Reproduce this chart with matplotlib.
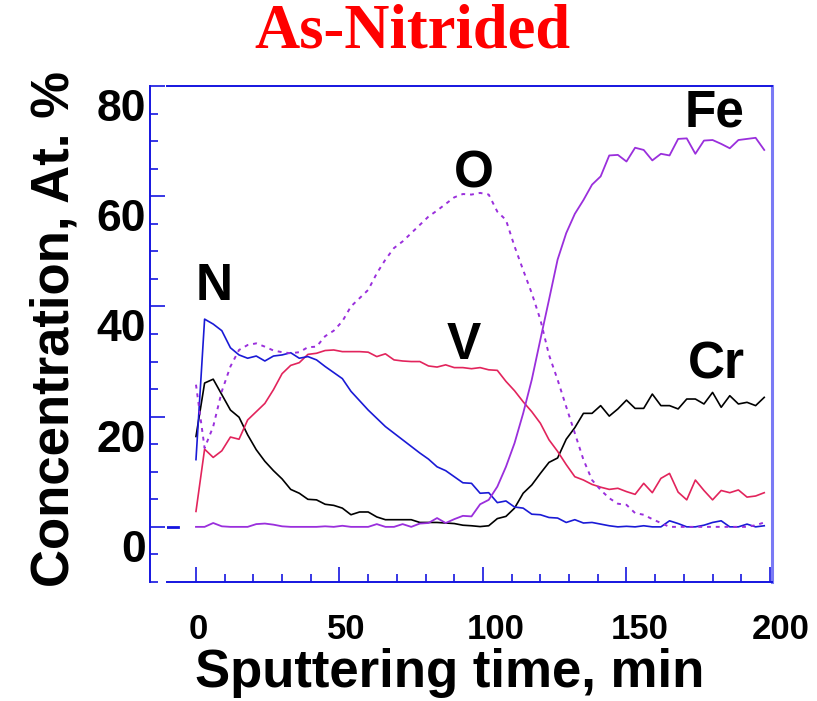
import numpy as np
import matplotlib
matplotlib.use("Agg")
import matplotlib.pyplot as plt
from matplotlib.ticker import MultipleLocator, FixedLocator
from matplotlib.transforms import ScaledTranslation

# sputtering time grid (min), one AES cycle every 3 min
time = np.arange(0, 199, 3)

# concentrations, at. %
n_conc = [12.2, 37.7, 36.8, 35.6, 32.5, 31.2, 30.6, 31.0, 30.1, 31.0,
          31.2, 31.6, 30.6, 30.9, 30.3, 29.1, 28.0, 26.9, 24.6, 22.9,
          21.2, 19.7, 18.2, 17.0, 15.8, 14.6, 13.4, 12.3, 10.9, 10.2,
          9.1, 8.0, 7.9, 6.1, 6.2, 4.4, 4.7, 3.6, 3.4, 2.3,
          2.2, 1.7, 1.6, 0.8, 1.3, 0.7, 0.8, 0.5, 0.2, 0.0,
          0.1, 0.0, 0.2, 0.0, 0.0, 1.1, 0.6, 0.0, 0.0, 0.3,
          0.8, 1.1, 0.0, 0.0, 0.5, 0.0, 0.2]
cr_conc = [16.4, 26.1, 26.8, 24.0, 21.2, 19.9, 16.7, 14.0, 11.9, 10.2,
           8.7, 6.8, 6.1, 5.0, 4.9, 4.1, 3.9, 3.4, 2.2, 2.7,
           2.7, 1.8, 1.3, 1.3, 1.3, 1.3, 0.8, 0.8, 0.8, 0.7,
           0.6, 0.3, 0.2, 0.05, 0.2, 1.5, 1.9, 3.4, 6.1, 7.6,
           9.7, 11.7, 12.5, 15.9, 18.0, 20.6, 20.6, 22.0, 20.1, 21.4,
           23.0, 21.5, 21.5, 24.1, 22.0, 22.0, 21.4, 23.2, 23.2, 22.3,
           24.4, 21.7, 23.8, 22.3, 22.6, 22.0, 23.5]
v_conc = [2.8, 14.1, 12.6, 13.8, 16.3, 15.9, 19.4, 20.9, 22.4, 24.9,
          27.8, 29.3, 29.8, 31.3, 31.5, 32.0, 32.1, 31.8, 31.8, 31.8,
          31.7, 30.9, 31.4, 30.3, 30.1, 30.0, 30.0, 29.2, 29.0, 29.4,
          28.9, 28.9, 28.7, 28.9, 28.5, 28.4, 26.4, 24.7, 22.7, 20.9,
          18.8, 15.8, 13.7, 11.3, 9.1, 8.5, 7.7, 7.2, 6.8, 7.0,
          6.4, 5.9, 7.9, 6.2, 8.8, 9.7, 6.3, 4.9, 8.5, 6.6,
          4.9, 6.6, 6.2, 6.7, 5.4, 5.6, 6.2]
fe_conc = [0.0, 0.0, 0.7, 0.1, 0.0, 0.0, 0.0, 0.5, 0.6, 0.4,
           0.1, 0.0, 0.0, 0.0, 0.0, 0.1, 0.0, 0.2, 0.0, 0.0,
           0.0, 0.5, 0.0, 0.0, 0.5, 0.0, 0.6, 0.7, 1.6, 0.7,
           1.4, 2.0, 1.9, 4.1, 4.9, 7.3, 10.9, 15.2, 20.6, 26.7,
           34.0, 41.2, 48.5, 53.3, 56.8, 59.3, 62.1, 63.6, 67.4, 67.5,
           66.3, 68.8, 68.4, 66.5, 67.7, 67.4, 70.4, 70.5, 67.7, 70.1,
           70.2, 69.5, 68.7, 70.2, 70.4, 70.6, 68.4]
o_conc = [25.8, 14.3, 18.2, 24.6, 29.1, 32.1, 33.0, 33.3, 32.7, 32.0,
          31.7, 31.5, 31.7, 32.6, 32.7, 34.6, 35.6, 37.3, 40.0, 41.5,
          43.0, 46.0, 48.5, 50.6, 51.8, 53.3, 54.8, 56.3, 57.4, 58.6,
          59.8, 60.4, 60.3, 60.6, 60.3, 57.2, 55.7, 50.9, 46.6, 42.4,
          37.6, 31.2, 26.7, 21.8, 17.0, 12.2, 8.5, 6.7, 5.2, 4.2,
          4.0, 2.5, 2.2, 1.4, 0.7, 0.0, 0.0, 0.0, 0.0, 0.0,
          0.0, 0.0, 0.0, 0.0, 0.0, 0.3, 0.8]

# element labels and where they sit (time, at. %)
labels = ["N", "O", "V", "Fe", "Cr"]
label_x = [6.3, 96.8, 93.4, 180.8, 181.2]
label_y = [43.6, 64.0, 33.0, 75.1, 29.4]

x_ticks = [0, 50, 100, 150, 200]
y_ticks = [0, 20, 40, 60, 80]

plt.rcParams["font.family"] = ["Liberation Sans", "DejaVu Sans"]
plt.rcParams["font.weight"] = "bold"
plt.rcParams["axes.labelweight"] = "bold"
blue = "#1515e0"

fig = plt.figure(figsize=(8.17, 7.01), dpi=100)
ax = fig.add_axes([0.2044, 0.1698, 0.7405, 0.7075])

ax.plot(time, cr_conc, color="black", lw=1.2)
ax.plot(time, v_conc, color="#e2245c", lw=1.2)
ax.plot(time, n_conc, color="#1a1ad6", lw=1.2)
ax.plot(time, fe_conc, color="#9a2fdc", lw=1.3)
ax.plot(time, o_conc, color="#9a2fdc", lw=1.4, linestyle=(0, (2, 2.5)))

for lab, lx, ly in zip(labels, label_x, label_y):
    ax.text(lx, ly, lab, fontsize=37, ha="center", va="center")

# small zero marker left of the curves
ax.axhline(0, xmin=0.0, xmax=0.019, color=blue, lw=2)

ax.set_xlim(-10.1, 200.7)
ax.set_ylim(-10, 80)

ax.set_xticks(x_ticks)
ax.set_yticks(y_ticks)
ax.xaxis.set_minor_locator(FixedLocator(np.arange(0, 201, 10)))
ax.yaxis.set_minor_locator(MultipleLocator(5))

ax.tick_params(axis="x", which="both", direction="in", color=blue,
               width=1.2, labelsize=25, pad=22)
ax.tick_params(axis="x", which="major", length=11)
ax.tick_params(axis="x", which="minor", length=6)
ax.tick_params(axis="y", which="both", direction="in", color=blue,
               width=1.2, labelsize=32, pad=3)
ax.tick_params(axis="y", which="major", length=11)
ax.tick_params(axis="y", which="minor", length=6)
ax.tick_params(top=False, right=False)

for side in ["left", "bottom", "top"]:
    ax.spines[side].set_color(blue)
    ax.spines[side].set_linewidth(1.4)
ax.spines["right"].set_color("#7a7af5")
ax.spines["right"].set_linewidth(2.2)
ax.spines["left"].set_position(("outward", 12))

# tick labels of the original sit a little off their tick marks
x_shift = [2, 7, 13, 13, 11]
for t, dx in zip(ax.get_xticklabels(), x_shift):
    t.set_transform(t.get_transform() + ScaledTranslation(dx / 100, 0, fig.dpi_scale_trans))
for t in ax.get_yticklabels():
    t.set_transform(t.get_transform() + ScaledTranslation(0, -0.19, fig.dpi_scale_trans))

ax.set_xlabel("Sputtering time, min", fontsize=38, fontweight="bold")
ax.xaxis.label.set_va("baseline")
ax.xaxis.set_label_coords(0.468, -0.212)
ax.set_ylabel("Concentration, At. %", fontsize=38, fontweight="bold")
ax.yaxis.label.set_va("baseline")
ax.yaxis.set_label_coords(-0.162, 0.511)

fig.text(0.505, 0.953, "As-Nitrided", fontsize=45, fontweight="bold",
         family="Liberation Serif", color="red", ha="center", va="center")

fig.savefig("out.png", dpi=100)
